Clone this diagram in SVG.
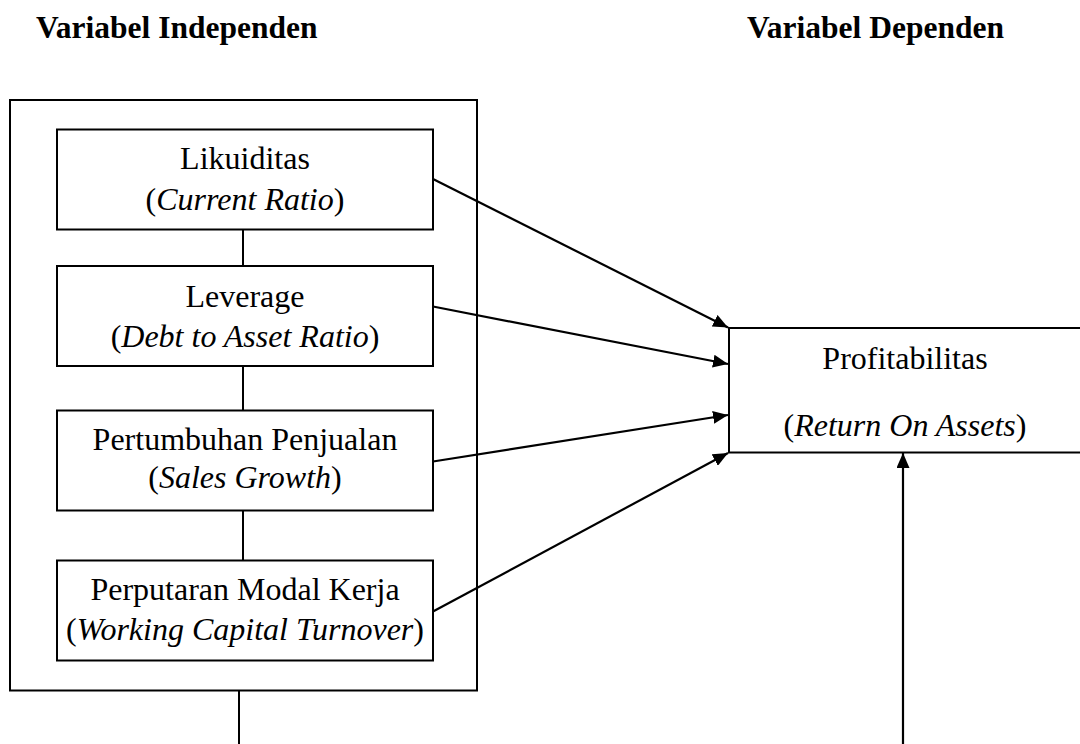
<svg xmlns="http://www.w3.org/2000/svg" width="1080" height="744" viewBox="0 0 1080 744">
<style>
text{font-family:"Liberation Serif",serif;fill:#000}
.h{font-size:31.5px;font-weight:bold}
.t{font-size:32px;text-anchor:middle}
.i{font-family:"Liberation Serif",serif;font-style:italic}
.box{fill:#fff;stroke:#000;stroke-width:2}
.ln{stroke:#000;stroke-width:2;fill:none}
.ar{stroke:#000;stroke-width:2.2;fill:none;marker-end:url(#ah)}
</style>
<defs>
<marker id="ah" markerUnits="userSpaceOnUse" markerWidth="15" markerHeight="13" refX="15" refY="6.5" orient="auto">
<path d="M0,0 L15,6.5 L0,13 z" fill="#000"/>
</marker>
</defs>
<rect width="1080" height="744" fill="#fff"/>
<text class="h" x="36" y="38">Variabel Independen</text>
<text class="h" x="747" y="38">Variabel Dependen</text>
<g id="independen">
<rect class="box" x="10" y="100" width="467" height="590.5"/>
</g>
<g id="connectors">
<line class="ln" x1="243" y1="229.5" x2="243" y2="266"/>
<line class="ln" x1="243" y1="366" x2="243" y2="410.5"/>
<line class="ln" x1="243" y1="510.5" x2="243" y2="560.5"/>
<line class="ln" x1="239" y1="690.5" x2="239" y2="744"/>
<line class="ar" x1="433" y1="179" x2="728" y2="327.5"/>
<line class="ar" x1="433" y1="306.5" x2="728" y2="364"/>
<line class="ar" x1="433" y1="461.5" x2="728" y2="415"/>
<line class="ar" x1="433" y1="611.5" x2="728" y2="453"/>
<line class="ar" x1="903" y1="744" x2="903" y2="453"/>
</g>
<g id="likuiditas">
<rect class="box" x="57" y="129.5" width="376" height="100"/>
<text class="t" x="245" y="169">Likuiditas</text>
<text class="t" x="245" y="210">(<tspan class="i">Current Ratio</tspan>)</text>
</g>
<g id="leverage">
<rect class="box" x="57" y="266" width="376" height="100"/>
<text class="t" x="245" y="306.5">Leverage</text>
<text class="t" x="245" y="346.5">(<tspan class="i">Debt to Asset Ratio</tspan>)</text>
</g>
<g id="pertumbuhan">
<rect class="box" x="57" y="410.5" width="376" height="100"/>
<text class="t" x="245" y="450">Pertumbuhan Penjualan</text>
<text class="t" x="245" y="488">(<tspan class="i">Sales Growth</tspan>)</text>
</g>
<g id="perputaran">
<rect class="box" x="57" y="560.5" width="376" height="100"/>
<text class="t" x="245" y="600">Perputaran Modal Kerja</text>
<text class="t" x="245" y="640">(<tspan class="i">Working Capital Turnover</tspan>)</text>
</g>
<g id="profitabilitas">
<rect class="box" x="729" y="328" width="352" height="124.5"/>
<text class="t" x="905" y="369">Profitabilitas</text>
<text class="t" x="905" y="436">(<tspan class="i">Return On Assets</tspan>)</text>
</g>
</svg>
